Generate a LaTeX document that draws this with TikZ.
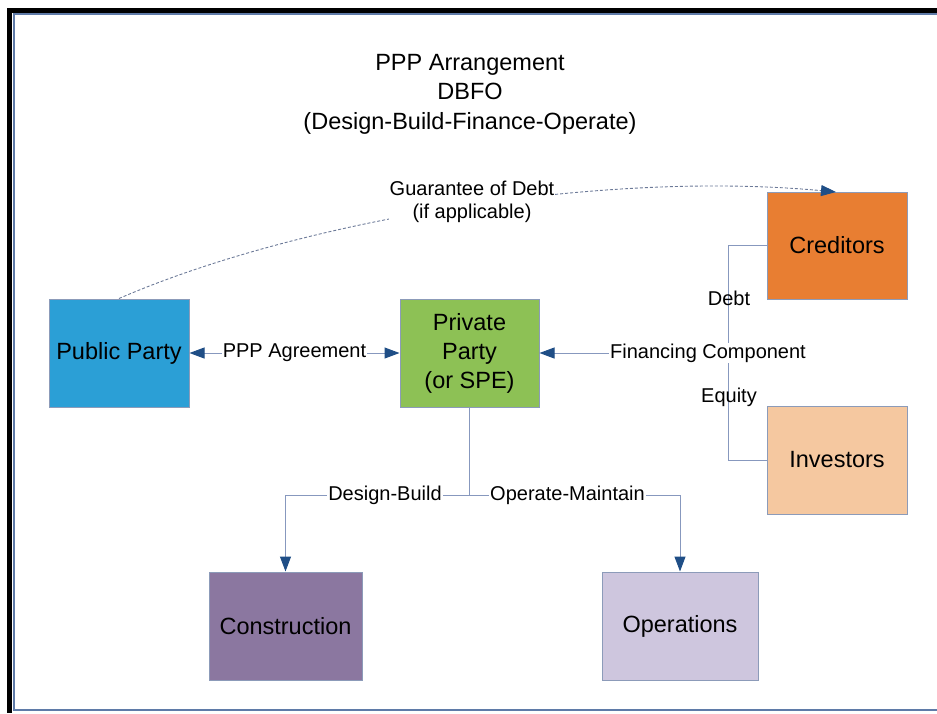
\documentclass[tikz,border=0pt]{standalone}
\usepackage{fontspec}
\setmainfont{Liberation Sans}
\usetikzlibrary{arrows.meta}
\definecolor{pubc}{RGB}{43,159,214}
\definecolor{privc}{RGB}{141,193,85}
\definecolor{credc}{RGB}{232,126,50}
\definecolor{invc}{RGB}{245,200,160}
\definecolor{consc}{RGB}{139,119,160}
\definecolor{opsc}{RGB}{206,198,222}
\definecolor{boxline}{RGB}{140,155,185}
\definecolor{linec}{RGB}{135,152,190}
\definecolor{tipc}{RGB}{31,78,134}
\definecolor{framec}{RGB}{95,123,168}
\begin{document}
\begin{tikzpicture}[x=1pt,y=-1pt,
  box/.style={draw=boxline, line width=1pt, align=center, inner sep=0pt,
    font=\fontsize{23.5}{29}\selectfont},
  lbl/.style={fill=white, inner sep=1pt, font=\fontsize{20}{23}\selectfont},
  plainlbl/.style={inner sep=1pt, font=\fontsize{20}{23}\selectfont},
  conn/.style={draw=linec, line width=1pt},
  tip/.style={-{Triangle[length=15pt,width=11pt,color=tipc]}},
  dtip/.style={{Triangle[length=15pt,width=11pt,color=tipc]}-{Triangle[length=15pt,width=11pt,color=tipc]}}
]
\useasboundingbox (0,0) rectangle (937,713);
% frame
\fill[black] (7,7.5) rectangle (945,12.5);
\fill[black] (6.5,7.5) rectangle (11.5,713);
\draw[framec, line width=1.8pt] (13.8,13.8) rectangle (960,710);

% title
\node[align=center, font=\fontsize{23.5}{29.5}\selectfont] (title) at (470,94)
  {PPP Arrangement\\DBFO\\(Design-Build-Finance-Operate)};

% boxes
\node[box, fill=pubc, minimum width=140pt, minimum height=108pt] (pub) at (119,353) {Public Party};
\node[box, fill=privc, minimum width=139pt, minimum height=108pt] (priv) at (469.5,353) {Private\\Party\\(or SPE)};
\node[box, fill=credc, minimum width=140pt, minimum height=107pt] (cred) at (837,245.5) {Creditors};
\node[box, fill=invc, minimum width=140pt, minimum height=108pt] (inv) at (837,460) {Investors};
\node[box, fill=consc, minimum width=153pt, minimum height=108pt] (cons) at (285.5,626) {Construction};
\node[box, fill=opsc, minimum width=156pt, minimum height=108pt] (ops) at (680,626) {Operations};

% PPP agreement
\draw[conn, dtip] (pub.east) -- (priv.west) node[lbl, midway] (pppl) {PPP Agreement};

% financing
\draw[conn] (cred.west) -- ++(-38,0) coordinate (cj) |- (inv.west);
\coordinate (fj) at (cj |- priv.east);
\draw[conn, tip] (fj) -- (priv.east);
\node[lbl] (finl) at (708,353) {Financing Component};
\node[plainlbl] (debtl) at (729,298) {Debt};
\node[plainlbl] (eql) at (729,397) {Equity};

% bottom split
\draw[conn] (priv.south) -- ++(0,88) coordinate (split);
\draw[conn, tip] (split) -| (cons.north);
\draw[conn, tip] (split) -| (ops.north);
\node[lbl] (dbl) at (385,495) {Design-Build};
\node[lbl] (oml) at (567.5,495) {Operate-Maintain};

% guarantee
\coordinate (gend) at (836,192);
\draw[linec!80!black, line width=0.9pt, dash pattern=on 3pt off 2pt, tip] (pub.north) .. controls (300,220) and (600,170) .. (gend);
\node[lbl, align=center] (guar) at (472,202) {Guarantee of Debt\\(if applicable)};
\end{tikzpicture}
\end{document}
